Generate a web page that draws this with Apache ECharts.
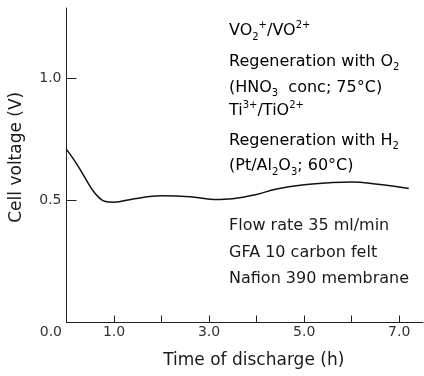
<!DOCTYPE html>
<html><head><meta charset="utf-8">
<script src="https://cdn.jsdelivr.net/npm/echarts@6/dist/echarts.min.js"></script>
<style>html,body{margin:0;padding:0;background:#fff}#c{width:424px;height:376px}</style>
</head><body><div id="c"></div>
<script>
var timeH = [0, 0.2, 0.4, 0.6, 0.8, 1.0, 1.4, 2.0, 2.6, 3.1, 3.5, 4.0, 4.4, 5.0, 5.6, 6.0, 6.5, 7.2];
var voltage = [0.71, 0.655, 0.59, 0.53, 0.497, 0.493, 0.507, 0.52, 0.516, 0.505, 0.508, 0.525, 0.547, 0.565, 0.574, 0.576, 0.568, 0.55];
var xTickLabels = ['1.0', '3.0', '5.0', '7.0'];
var yTickLabels = ['0.5', '1.0'];
var originLabel = '0.0';
var xName = 'Time of discharge (h)';
var yName = 'Cell voltage (V)';
var noteTop = [
  '{n|VO}{sub|2}{sup|+}{n|/VO}{sup|2+}',
  '{n|Regeneration with O}{sub|2}',
  '{n|(HNO}{sub|3}{n|  conc; 75°C)}',
  '{n|Ti}{sup|3+}{n|/TiO}{sup|2+}',
  '{n|Regeneration with H}{sub|2}',
  '{n|(Pt/Al}{sub|2}{n|O}{sub|3}{n|; 60°C)}'
];
var noteBottom = ['Flow rate 35 ml/min', 'GFA 10 carbon felt', 'Nafion 390 membrane'];

var FONT = 'DejaVu Sans';
var INK = '#1a1a1a';
var rich = {
  n: {fontSize: 16, fontFamily: FONT, color: INK, lineHeight: 22, verticalAlign: 'middle'},
  sub: {fontSize: 10, fontFamily: FONT, color: INK, lineHeight: 22, verticalAlign: 'bottom'},
  sup: {fontSize: 10, fontFamily: FONT, color: INK, lineHeight: 22, verticalAlign: 'top'}
};
var topYs = [31, 61.5, 87.5, 111, 140.5, 166];
var botYs = [226, 252.5, 279];
var graphics = [];
noteTop.forEach(function (t, i) {
  graphics.push({type: 'text', x: 229, y: topYs[i], style: {text: t, rich: rich, verticalAlign: 'middle'}});
});
noteBottom.forEach(function (t, i) {
  graphics.push({type: 'text', x: 229, y: botYs[i], style: {text: t, font: '16px "' + FONT + '"', fill: INK, verticalAlign: 'middle'}});
});
graphics.push({type: 'text', x: 62, y: 332, style: {text: originLabel, font: '14px "' + FONT + '"', fill: '#333', align: 'right', verticalAlign: 'middle'}});

var chart = echarts.init(document.getElementById('c'));
chart.setOption({
  animation: false,
  backgroundColor: '#fff',
  grid: {left: 66.5, right: 1, top: 8, bottom: 53.5},
  xAxis: {
    type: 'value', min: 0, max: 7.5, interval: 1,
    name: xName, nameLocation: 'middle', nameGap: 30,
    nameTextStyle: {fontFamily: FONT, fontSize: 17, color: INK, padding: [0, 0, 0, 18]},
    axisLine: {lineStyle: {color: '#222', width: 1}},
    axisTick: {inside: true, length: 7, lineStyle: {color: '#222'}},
    splitLine: {show: false},
    axisLabel: {fontFamily: FONT, fontSize: 14, color: '#333', margin: 3, showMaxLabel: false,
      formatter: function (v) { var s = v.toFixed(1); return xTickLabels.indexOf(s) >= 0 ? s : ''; }}
  },
  yAxis: {
    type: 'value', min: 0, max: 1.29, interval: 0.5,
    name: yName, nameLocation: 'middle', nameGap: 41,
    nameTextStyle: {fontFamily: FONT, fontSize: 17, color: INK, padding: [0, 0, 0, 16]},
    axisLine: {show: true, lineStyle: {color: '#222', width: 1}},
    axisTick: {show: true, inside: true, length: 10, lineStyle: {color: '#222'}},
    splitLine: {show: false},
    axisLabel: {fontFamily: FONT, fontSize: 14, color: '#333', margin: 5, showMaxLabel: false,
      formatter: function (v) { var s = v.toFixed(1); return yTickLabels.indexOf(s) >= 0 ? s : ''; }}
  },
  series: [{
    type: 'line', data: timeH.map(function (t, i) { return [t, voltage[i]]; }),
    smooth: 0.4, showSymbol: false, lineStyle: {color: '#111', width: 1.5}
  }],
  graphic: graphics
});
</script></body></html>
